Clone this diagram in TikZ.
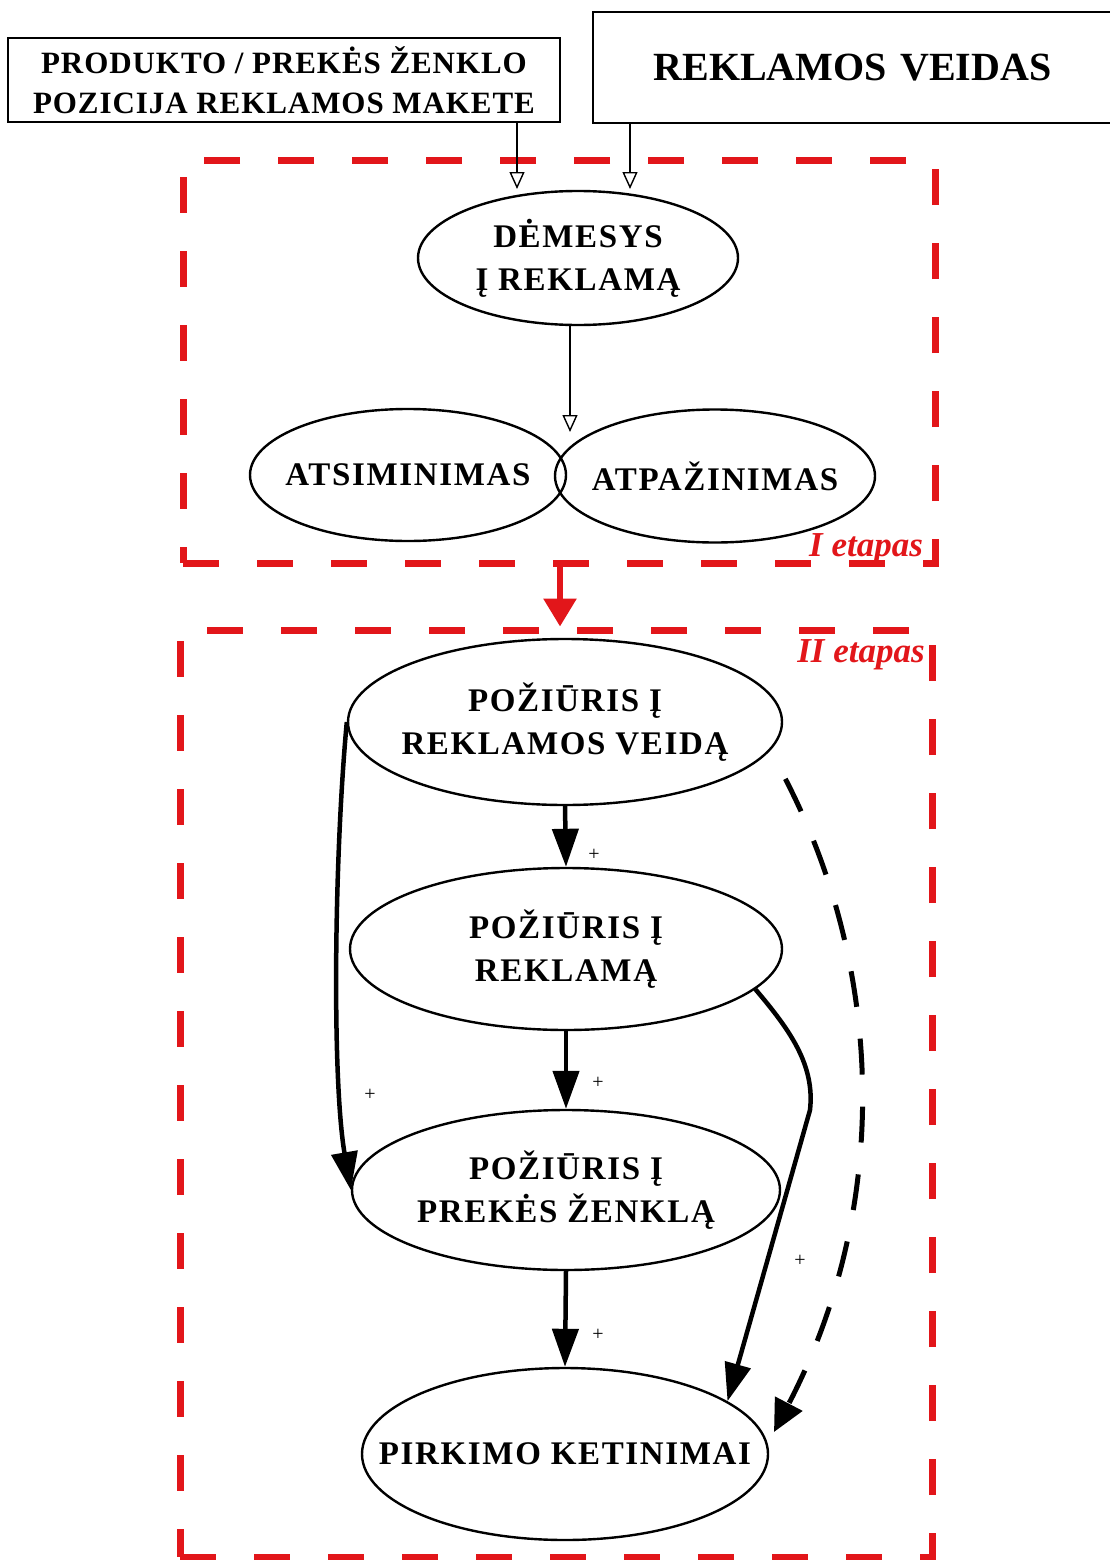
\documentclass[tikz,border=0pt]{standalone}
\usepackage{fontspec}
\setmainfont{Liberation Serif}
\usetikzlibrary{arrows.meta,shapes.geometric,calc}
\definecolor{dred}{RGB}{226,22,26}
\begin{document}
\begin{tikzpicture}[x=1pt,y=-1pt,
  ell/.style={ellipse, draw, line width=2.4pt, inner xsep=-45pt, inner ysep=-12pt, align=center,
    font=\fontsize{33}{43}\selectfont\bfseries\addfontfeature{LetterSpace=5}},
  topbox/.style={rectangle, draw, line width=2.6pt, inner sep=0pt, align=center},
  redbox/.style={draw=dred, line width=7pt, dash pattern=on 36pt off 38pt, inner sep=0pt},
  openarr/.style={line width=1.6pt, -{Triangle[open, width=15pt, length=17pt, line width=1.4pt]}},
  thickarr/.style={line width=4.5pt, -{Triangle[width=26pt, length=38pt]}},
  dasharr/.style={line width=5pt, dash pattern=on 36pt off 32pt, dash phase=36pt,
    -{Triangle[width=30pt, length=32pt]}},
  redarr/.style={draw=dred, line width=6pt, -{Triangle[width=32pt, length=28pt, fill=dred]}},
  plus/.style={font=\fontsize{20}{20}\selectfont, inner sep=0pt},
  etap/.style={text=dred, font=\fontsize{35}{35}\selectfont\bfseries\itshape, inner sep=0pt, anchor=base}
]
\useasboundingbox (0,0) rectangle (1110,1560);
\fill[white] (0,0) rectangle (1110,1560);

% stage frames
\node[redbox, minimum width=752pt, minimum height=403pt] (st1) at (559,361.5) {};
\node[redbox, minimum width=752pt, minimum height=927pt] (st2) at (556,1093.5) {};
\node[etap] (lab1) at (866,556) {I etapas};
\node[etap] (lab2) at (861,662) {II etapas};

% top boxes
\node[topbox, minimum width=552pt, minimum height=84pt,
  font=\fontsize{31}{40}\selectfont\bfseries\addfontfeature{LetterSpace=3}] (box1) at (284,80)
  {PRODUKTO / PREKĖS ŽENKLO\\POZICIJA REKLAMOS MAKETE};
\node[topbox, minimum width=519pt, minimum height=111pt, text width=519pt,
  font=\fontsize{40}{40}\selectfont\bfseries] (box2) at (852.5,67.5)
  {REKLAMOS VEIDAS};

% ellipses
\node[ell, minimum width=320pt, minimum height=134pt] (dem) at (578,258) {DĖMESYS\\Į REKLAMĄ};
\node[ell, minimum width=316pt, minimum height=132pt] (ats) at (408,475) {ATSIMINIMAS};
\node[ell, minimum width=320pt, minimum height=133pt] (atp) at (715,476) {ATPAŽINIMAS};
\node[ell, minimum width=434pt, minimum height=166pt] (pv) at (565,722) {POŽIŪRIS Į\\REKLAMOS VEIDĄ};
\node[ell, minimum width=432pt, minimum height=162pt] (pr) at (566,949) {POŽIŪRIS Į\\REKLAMĄ};
\node[ell, minimum width=428pt, minimum height=160pt] (pz) at (566,1190) {POŽIŪRIS Į\\PREKĖS ŽENKLĄ};
\node[ell, minimum width=406pt, minimum height=172pt] (pk) at (565,1454) {PIRKIMO KETINIMAI};

% arrows in stage I
\coordinate (t1) at (517,189);
\coordinate (t2) at (630,189);
\coordinate (t3) at (570,432);
\draw[openarr] (box1.south -| t1) -- (t1);
\draw[openarr] (box2.south -| t2) -- (t2);
\draw[openarr] (dem.south -| t3) -- (t3);

% between stages
\draw[redarr] (st1.south -| 560,0) -- (st2.north -| 560,0);

% stage II arrows
\draw[thickarr] (pv.south) -- (pr.north);
\draw[thickarr] (pr.south) -- (pz.north);
\draw[thickarr] (pz.south) -- (pk.north);
\draw[thickarr] (pv.west) .. controls (334,860) and (332,1080) .. (pz.west);
\coordinate (rb) at (810,1110);
\draw[thickarr] (pr.-12) .. controls (790,1030) and (815,1065) .. (rb) -- (pk.18);
\coordinate (dtip) at (774,1432);
\draw[dasharr] (pv.-8) .. controls (885,950) and (895,1200) .. (dtip);

% plus signs
\node[plus] (p1) at (594,855) {+};
\node[plus] (p2) at (598,1083) {+};
\node[plus] (p3) at (370,1095) {+};
\node[plus] (p4) at (800,1261) {+};
\node[plus] (p5) at (598,1335) {+};
\end{tikzpicture}
\end{document}
